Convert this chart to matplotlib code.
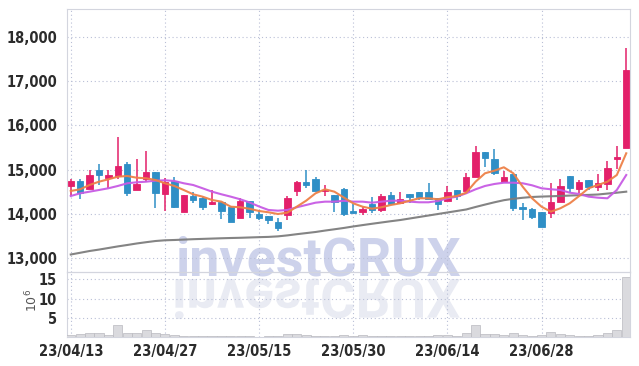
import numpy as np
import matplotlib
matplotlib.use('Agg')
import matplotlib.pyplot as plt
import matplotlib.font_manager as fm
from matplotlib.textpath import TextPath
from matplotlib.patches import PathPatch
from matplotlib.transforms import Affine2D
from matplotlib.ticker import FuncFormatter, FixedLocator

# ---------------- data ----------------
dates = ['23/04/13', '23/04/14', '23/04/17', '23/04/18', '23/04/19', '23/04/20', '23/04/21',
         '23/04/24', '23/04/25', '23/04/26', '23/04/27', '23/04/28', '23/05/02', '23/05/03',
         '23/05/04', '23/05/08', '23/05/09', '23/05/10', '23/05/11', '23/05/12', '23/05/15',
         '23/05/16', '23/05/17', '23/05/18', '23/05/19', '23/05/22', '23/05/23', '23/05/24',
         '23/05/25', '23/05/26', '23/05/30', '23/05/31', '23/06/01', '23/06/02', '23/06/05',
         '23/06/07', '23/06/08', '23/06/09', '23/06/12', '23/06/13', '23/06/14', '23/06/15',
         '23/06/16', '23/06/19', '23/06/20', '23/06/21', '23/06/22', '23/06/23', '23/06/26',
         '23/06/27', '23/06/28', '23/06/29', '23/06/30', '23/07/03', '23/07/04', '23/07/05',
         '23/07/06', '23/07/07', '23/07/10', '23/07/11']

opens = [14620, 14745, 14570, 14990, 14810, 14855, 15135, 14540, 14795, 14950,
         14440, 14750, 14050, 14400, 14350, 14215, 14275, 14145, 13900, 14300,
         13990, 13950, 13820, 13975, 14505, 14720, 14790, 14505, 14425, 14555,
         14070, 14050, 14220, 14085, 14425, 14240, 14445, 14500, 14500, 14365,
         14290, 14545, 14515, 14825, 15400, 15240, 14725, 14905, 14145, 14100,
         14040, 14010, 14275, 14850, 14560, 14765, 14615, 14675, 15240, 15480]
highs = [14790, 14790, 14985, 15130, 14985, 15730, 15180, 15240, 15415, 14950,
         14820, 14830, 14430, 14500, 14390, 14540, 14275, 14180, 14350, 14300,
         14085, 13950, 13900, 14400, 14735, 15000, 14840, 14650, 14425, 14580,
         14220, 14165, 14390, 14450, 14500, 14490, 14445, 14500, 14690, 14365,
         14630, 14545, 14925, 15540, 15400, 15465, 14975, 14905, 14235, 14125,
         14040, 14690, 14785, 14850, 14765, 14765, 14890, 15200, 15535, 17745]
lows = [14400, 14330, 14570, 14655, 14580, 14785, 14400, 14540, 14730, 14125,
        14065, 14140, 14030, 14235, 14085, 14200, 13880, 13820, 13900, 13900,
        13860, 13765, 13620, 13860, 14400, 14580, 14505, 14400, 14050, 13950,
        14025, 13975, 14025, 14050, 14200, 14240, 14240, 14320, 14330, 14090,
        14290, 14320, 14515, 14825, 15050, 14885, 14725, 14070, 13860, 13880,
        13710, 13900, 14275, 14480, 14465, 14540, 14525, 14540, 15010, 15480]
closes = [14745, 14480, 14880, 14880, 14880, 15090, 14480, 14675, 14950, 14480,
          14710, 14165, 14425, 14310, 14160, 14275, 14070, 13820, 14300, 14050,
          13915, 13860, 13670, 14365, 14730, 14650, 14505, 14530, 14275, 13985,
          14025, 14110, 14085, 14400, 14215, 14330, 14370, 14390, 14330, 14220,
          14500, 14410, 14825, 15400, 15270, 14925, 14825, 14125, 14100, 13935,
          13710, 14260, 14630, 14590, 14725, 14615, 14690, 15030, 15275, 17250]

ma_short = [14517, 14555, 14653, 14727, 14781, 14840, 14856, 14817, 14804, 14765,
            14691, 14630, 14539, 14442, 14388, 14313, 14275, 14161, 14148, 14114,
            14064, 14035, 13996, 14026, 14161, 14297, 14464, 14555, 14501, 14369,
            14238, 14161, 14116, 14148, 14200, 14238, 14297, 14351, 14351, 14329,
            14374, 14403, 14478, 14727, 14917, 14976, 15053, 14917, 14614, 14351,
            14161, 14048, 14125, 14238, 14403, 14578, 14652, 14727, 14878, 15369]
ma_mid = [14403, 14464, 14501, 14539, 14578, 14630, 14691, 14713, 14727, 14750,
          14759, 14743, 14691, 14652, 14578, 14501, 14442, 14388, 14329, 14257,
          14166, 14087, 14071, 14087, 14148, 14200, 14252, 14275, 14275, 14295,
          14275, 14275, 14252, 14275, 14297, 14297, 14275, 14261, 14261, 14290,
          14351, 14388, 14464, 14555, 14630, 14675, 14704, 14704, 14691, 14645,
          14578, 14555, 14539, 14478, 14449, 14388, 14365, 14351, 14539, 14878]
ma_long = [13080, 13119, 13159, 13191, 13227, 13263, 13295, 13329, 13358, 13385,
           13401, 13408, 13417, 13426, 13433, 13440, 13447, 13453, 13458, 13465,
           13472, 13478, 13490, 13512, 13539, 13564, 13589, 13621, 13650, 13680,
           13714, 13745, 13775, 13804, 13833, 13860, 13894, 13928, 13962, 13996,
           14030, 14064, 14098, 14155, 14209, 14261, 14308, 14340, 14363, 14381,
           14390, 14397, 14404, 14413, 14422, 14428, 14437, 14458, 14478, 14501]

volume = [0.5, 0.9, 1.05, 1.05, 0.5, 3.0, 1.05, 1.05, 1.85, 1.15,
          0.9, 0.5, 0.3, 0.25, 0.2, 0.2, 0.2, 0.2, 0.2, 0.15,
          0.1, 0.15, 0.2, 0.9, 0.9, 0.6, 0.3, 0.3, 0.3, 0.5,
          0.3, 0.45, 0.3, 0.3, 0.25, 0.25, 0.2, 0.2, 0.25, 0.4,
          0.4, 0.35, 1.05, 3.25, 0.9, 0.9, 0.5, 1.05, 0.5, 0.35,
          0.6, 1.3, 0.9, 0.5, 0.35, 0.35, 0.5, 1.05, 1.75, 15.5]

price_ticks = [13000, 14000, 15000, 16000, 17000, 18000]
volume_ticks = [5, 10, 15]
date_tick_idx = [0, 10, 20, 30, 40, 50]
watermark = 'investCRUX'

# ---------------- style ----------------
W, H = 639, 366
ttf = fm.fontManager.ttflist
names = {f.name for f in ttf}
lab_prop = None
if any(f.name == 'DejaVu Sans' and f.stretch in ('condensed', 'semi-condensed') for f in ttf):
    lab_prop = dict(family='DejaVu Sans', stretch='condensed')
elif 'Liberation Sans Narrow' in names:
    lab_prop = dict(family='Liberation Sans Narrow')
else:
    lab_prop = dict(family='Roboto')

RED = '#e3206a'
BLUE = '#2f8fc6'
GRID = '#b9bfd6'
SPINE = '#d3d5de'
TXT = '#2b2b2b'

fig = plt.figure(figsize=(W / 100, H / 100), dpi=100)
fig.patch.set_facecolor('white')
ax = fig.add_axes([67 / W, 1 - 272 / H, (630 - 67) / W, (272 - 9) / H])
axv = fig.add_axes([67 / W, 1 - 337 / H, (630 - 67) / W, (337 - 272) / H], sharex=ax)
for a in (ax, axv):
    a.set_facecolor('none')
    for s in a.spines.values():
        s.set_color(SPINE)
        s.set_linewidth(0.8)
    a.grid(True, color=GRID, linestyle=(0, (1, 2.5)), linewidth=0.8)
    a.set_axisbelow(True)
    a.tick_params(length=0, colors=TXT)

x = np.arange(len(dates))
o = np.array(opens); c = np.array(closes); h = np.array(highs); l = np.array(lows)
up = c >= o
cols = np.where(up, RED, BLUE)
bottoms = np.minimum(o, c)
heights = np.maximum(np.abs(c - o), 25)

ax.vlines(x, l, h, colors=cols, linewidth=1.1, zorder=3)
ax.bar(x, heights, bottom=bottoms, width=0.68, color=cols, edgecolor=cols,
       linewidth=0.6, zorder=4)

ax.plot(x, ma_long, color='#7d7d7d', linewidth=1.5, alpha=0.95, zorder=5)
ax.plot(x, ma_mid, color='#c75be4', linewidth=1.5, alpha=0.95, zorder=5)
ax.plot(x, ma_short, color='#ee8148', linewidth=1.5, alpha=0.95, zorder=6)

ax.set_xlim(-0.4, len(dates) - 1 + 0.4)
ax.set_ylim(12684, 18633)
ax.yaxis.set_major_locator(FixedLocator(price_ticks))
ax.yaxis.set_major_formatter(FuncFormatter(lambda v, p: f'{int(v):,}'))
ax.tick_params(axis='x', labelbottom=False)
ax.tick_params(axis='y', pad=7)

axv.bar(x, volume, width=0.96, color='#dadade', edgecolor='#b9b9bf', linewidth=0.5, zorder=3)
axv.set_ylim(0, 16.9)
axv.yaxis.set_major_locator(FixedLocator(volume_ticks))
axv.xaxis.set_major_locator(FixedLocator(date_tick_idx))
axv.set_xticklabels([dates[i] for i in date_tick_idx])
axv.tick_params(axis='x', pad=5)
axv.tick_params(axis='y', pad=7)

for a in (ax, axv):
    for t in a.get_xticklabels() + a.get_yticklabels():
        t.set_fontproperties(fm.FontProperties(weight='bold', size=10.5, **lab_prop))
        t.set_color(TXT)

fig.text(32 / W, 1 - 300 / H, r'$10^6$', rotation=90, ha='center', va='center',
         fontsize=9, color='#555555')

# watermark
wm_fp = fm.FontProperties(family='Roboto', weight='bold')
wm = fig.text(175 / W, 1 - 276 / H, watermark, fontproperties=wm_fp, fontsize=40,
              color='#cdd2eb', ha='left', va='baseline', zorder=-5)
fig.canvas.draw()
bb = wm.get_window_extent()
wm.set_fontsize(40 * 285 / bb.width)

tp = TextPath((0, 0), watermark, size=1, prop=wm_fp)
ext = tp.get_extents()
sc = 285 / ext.width
tr = Affine2D().translate(-ext.x0, 0).scale(sc, -sc).translate(175, H - 279)
refl = PathPatch(tp, transform=tr, facecolor='#e9ebf3', edgecolor='none', zorder=-5)
fig.add_artist(refl)

fig.savefig('out.png', dpi=100, facecolor='white')
